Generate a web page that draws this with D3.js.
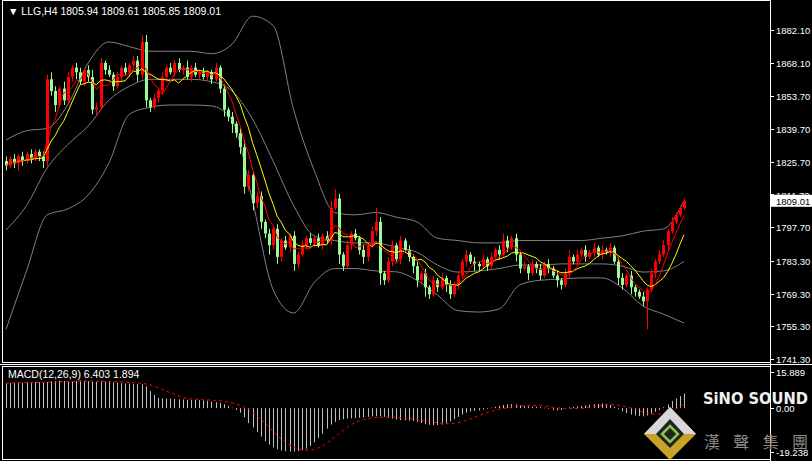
<!DOCTYPE html>
<html>
<head>
<meta charset="utf-8">
<script src="https://cdn.jsdelivr.net/npm/d3@7/dist/d3.min.js"></script>
<style>
body { margin: 0; background: #000; }
svg { display: block; }
</style>
</head>
<body>
<svg width="812" height="462"></svg>
<script>
// closing prices of the H4 candles, oldest first
var closes = [
  1824,1827,1825,1828,1826,1829,1827,1830,1828,1826,
  1861,1856,1850,1857,1852,1862,1866,1864,1860,1865,
  1862,1848,1849,1868,1865,1863,1858,1862,1866,1864,
  1867,1869,1863,1877,1852,1849,1853,1856,1862,1866,
  1864,1868,1865,1866,1862,1866,1863,1864,1862,1864,
  1861,1866,1857,1848,1845,1842,1838,1832,1815,1820,
  1808,1811,1800,1795,1790,1797,1785,1792,1789,1794,
  1782,1786,1790,1793,1791,1793,1790,1794,1792,1806,
  1810,1786,1781,1790,1795,1793,1788,1785,1790,1796,
  1800,1778,1775,1783,1790,1784,1792,1788,1785,1781,
  1775,1778,1772,1769,1775,1772,1776,1773,1769,1773,
  1777,1783,1786,1783,1782,1781,1784,1781,1785,1788,
  1786,1792,1789,1793,1786,1780,1781,1778,1782,1780,
  1777,1782,1780,1777,1775,1773,1778,1785,1783,1786,
  1788,1785,1787,1789,1786,1788,1787,1789,1783,1776,
  1773,1777,1772,1770,1768,1766,1771,1778,1783,1786,
  1790,1796,1800,1803,1806,1809.01
];
var firstOpen = 1826;
// wick lengths above / below the body
var upWick = [
  2,1,2,1,2,1,2,1,1,2, 2,3,2,1,3,2,1,2,2,1,
  2,3,2,2,1,2,1,2,1,2, 1,2,2,3,3,1,2,1,2,1,
  2,1,2,1,3,1,2,1,2,1, 1,2,1,2,1,2,1,2,3,2,
  1,2,2,1,2,1,2,1,2,1, 2,1,2,1,2,1,2,1,2,3,
  4,2,1,2,1,2,1,2,1,2, 6,2,1,2,2,1,2,1,2,1,
  2,1,2,1,2,1,2,1,2,1, 2,1,2,1,2,1,2,1,2,1,
  2,3,2,1,2,1,2,1,2,1, 2,1,2,1,2,1,2,3,1,2,
  1,2,1,2,1,2,1,2,1,2, 2,1,2,1,1,2,1,2,1,2,
  2,1,2,1,1,1
];
var downWick = [
  2,1,2,3,2,1,2,1,2,3, 2,2,3,1,2,1,2,3,1,2,
  2,2,3,1,2,1,2,1,2,1, 2,1,3,2,3,2,1,2,1,2,
  1,2,1,2,1,2,1,2,1,2, 2,1,2,3,2,4,2,3,3,2,
  3,2,3,2,4,2,3,2,1,2, 3,2,1,2,1,2,1,2,1,2,
  1,4,2,1,2,1,2,3,2,1, 2,5,2,1,2,1,2,1,2,3,
  3,2,4,2,1,2,1,3,2,1, 2,1,2,1,3,2,1,2,1,2,
  2,1,2,1,3,2,1,3,1,2, 2,1,2,1,3,2,1,2,1,2,
  1,2,1,2,1,2,1,2,1,3, 2,1,3,2,1,2,12,1,2,1,
  1,2,1,1,1,1
];
// Bollinger band readings every 5th candle
var bandIdx = d3.range(0, 166, 5);
var bandUpper = [1835,1839,1840,1850,1868,1877,1875,1873,1873,1873,1872,1876,1888,1884,1848,1822,1804,1803,1804,1802,1800,1793,1792,1791,1791,1792,1792,1792,1792,1793,1794,1796,1797,1809];
var bandMid = [1796.5,1807,1823,1833,1841,1852,1858,1861,1861,1861,1860,1856,1844,1826,1807,1794,1792,1791,1791,1789,1787,1781.5,1778.5,1779,1780,1781.5,1781.5,1782,1782,1782,1781,1778.5,1779,1783];
var bandLower = [1754,1779,1803,1805.5,1811.5,1825,1846,1849,1850,1850,1849.6,1843.6,1809,1771,1761,1774,1780,1780,1779,1778.6,1775,1768.7,1762,1761.4,1762.7,1773,1775,1775.5,1776,1776,1771.7,1764,1760.5,1756.7];
// MACD histogram per candle
var macd = [
  11.0,11.1,11.2,11.3,11.2,11.3,11.4,11.5,11.4,11.3,
  11.5,11.8,11.9,12.0,11.9,11.8,11.9,12.0,12.1,12.0,
  11.9,11.7,11.6,11.8,11.7,11.5,11.4,11.2,11.0,10.8,
  10.7,10.6,10.6,10.5,9.6,7.5,5.8,4.5,4.3,4.2,
  4.2,4.0,3.9,3.8,3.7,3.6,3.6,3.5,3.4,3.3,
  3.0,2.6,2.3,1.8,1.0,0.2,-0.8,-2,-4,-6.5,
  -8.5,-10.5,-12.5,-14.5,-16,-17.2,-18,-18.6,-18.9,-19.1,
  -19,-18.8,-18.4,-17.8,-16.6,-15,-13.2,-11.2,-9,-7.2,
  -6,-5.2,-4.8,-4.6,-4.5,-4.3,-4.2,-4,-3.8,-3.6,
  -3.5,-3.6,-3.8,-4.2,-4.6,-5,-5.2,-5.3,-5.4,-5.6,
  -6,-6.5,-7,-7.3,-7.5,-7.4,-7.2,-6.8,-5.8,-4.8,
  -3.8,-2.8,-2,-1.5,-1.2,-1,-0.6,-0.3,0.2,0.6,
  1.0,1.4,1.7,1.8,1.6,1.2,0.9,0.8,0.7,0.6,
  0.5,0.2,-0.3,-0.8,-1,-0.8,-0.2,0.3,0.6,0.8,
  1.0,1.2,1.5,1.7,1.9,2,1.8,1.4,0.6,-0.4,
  -1.4,-2.2,-2.8,-3.2,-3.5,-3.6,-3.2,-2.4,-1.6,-0.8,
  0.4,1.6,3.1,4.2,5.3,6.403
];
var priceTicks = [1882.10,1868.10,1853.70,1839.70,1825.70,1811.70,1797.70,1783.30,1769.30,1755.30,1741.30];
var macdTicks = [15.889, 0, -19.238];

var svg = d3.select("svg");
var n = closes.length;
var mainTop = 2, mainBottom = 362, macdTop = 366, macdBottom = 459, axisX = 770;
var font = "Liberation Sans, Arial";

var candles = closes.map(function (c, i) {
    var o = i === 0 ? firstOpen : closes[i - 1];
    return { i: i, o: o, c: c, h: Math.max(o, c) + upWick[i], l: Math.min(o, c) - downWick[i] };
});

var x = d3.scaleLinear().domain([0, n - 1]).range([6, 684]);
var y = d3.scaleLinear().domain([1741.30, 1882.10]).range([359, 30]);
var ym = d3.scaleLinear().domain([-19.238, 15.889]).range([452, 372]);

svg.append("rect").attr("width", 812).attr("height", 462).attr("fill", "#000");

// panel frames
svg.append("rect").attr("x", 2.5).attr("y", 0.5).attr("width", axisX - 2).attr("height", mainBottom)
    .attr("fill", "none").attr("stroke", "#fff");
svg.append("rect").attr("x", 2.5).attr("y", macdTop + 0.5).attr("width", axisX - 2).attr("height", macdBottom - macdTop)
    .attr("fill", "none").attr("stroke", "#fff");
svg.append("line").attr("x1", 0).attr("x2", 812).attr("y1", 364.5).attr("y2", 364.5).attr("stroke", "#fff");
svg.append("line").attr("x1", 0).attr("x2", 812).attr("y1", 461.5).attr("y2", 461.5).attr("stroke", "#fff");

var main = svg.append("g");

// bands
var bandLine = d3.line().x(function (d) { return x(d[0]); }).y(function (d) { return y(d[1]); }).curve(d3.curveMonotoneX);
[bandUpper, bandMid, bandLower].forEach(function (arr) {
    main.append("path")
        .attr("d", bandLine(arr.map(function (v, k) { return [bandIdx[k], v]; })))
        .attr("fill", "none").attr("stroke", "#808080").attr("stroke-width", 1);
});

// candles: red rising, light green falling
var col = function (d) { return d.c >= d.o ? "#ff0000" : "#98fb98"; };
main.selectAll("line.wick").data(candles).enter().append("line")
    .attr("x1", function (d) { return Math.round(x(d.i)) + 0.5; })
    .attr("x2", function (d) { return Math.round(x(d.i)) + 0.5; })
    .attr("y1", function (d) { return y(d.h); })
    .attr("y2", function (d) { return y(d.l); })
    .attr("stroke", col);
main.selectAll("rect.body").data(candles).enter().append("rect")
    .attr("x", function (d) { return Math.round(x(d.i)) - 1; })
    .attr("width", 3)
    .attr("y", function (d) { return y(Math.max(d.o, d.c)); })
    .attr("height", function (d) { return Math.max(1, Math.abs(y(d.o) - y(d.c))); })
    .attr("fill", col);

// moving averages
function sma(arr, p) {
    return arr.map(function (v, i) { return d3.mean(arr.slice(Math.max(0, i - p + 1), i + 1)); });
}
var maLine = d3.line().x(function (d, i) { return x(i); }).y(function (d) { return y(d); });
main.append("path").attr("d", maLine(sma(closes, 9))).attr("fill", "none").attr("stroke", "#ffff00");
main.append("path").attr("d", maLine(sma(closes, 5))).attr("fill", "none").attr("stroke", "#ff0000");

// price axis
var ax = svg.append("g").attr("font-family", font).attr("font-size", 9.5).attr("fill", "#fff");
priceTicks.forEach(function (t) {
    ax.append("line").attr("x1", axisX).attr("x2", axisX + 4).attr("y1", Math.round(y(t)) + 0.5).attr("y2", Math.round(y(t)) + 0.5).attr("stroke", "#fff");
    ax.append("text").attr("x", 776).attr("y", y(t) + 4).text(t.toFixed(2));
});
var last = closes[n - 1];
ax.append("rect").attr("x", axisX + 1).attr("y", y(last) - 6).attr("width", 41).attr("height", 12).attr("fill", "#fff");
ax.append("text").attr("x", 776).attr("y", y(last) + 4).attr("fill", "#000").text(last.toFixed(2));

// header
svg.append("text").attr("x", 8).attr("y", 15).attr("font-family", font).attr("font-size", 10.5)
    .attr("fill", "#fff").text("\u25BC LLG,H4  1805.94 1809.61 1805.85 1809.01");

// MACD
var mg = svg.append("g");
mg.selectAll("line.h").data(macd).enter().append("line")
    .attr("x1", function (d, i) { return Math.round(x(i)) + 0.5; })
    .attr("x2", function (d, i) { return Math.round(x(i)) + 0.5; })
    .attr("y1", ym(0)).attr("y2", function (d) { return ym(d); })
    .attr("stroke", "#c0c0c0");
var signal = sma(macd, 9);
mg.append("path")
    .attr("d", d3.line().x(function (d, i) { return x(i); }).y(function (d) { return ym(d); })(signal))
    .attr("fill", "none").attr("stroke", "#ff0000").attr("stroke-dasharray", "3,3");
mg.append("text").attr("x", 8).attr("y", 378).attr("font-family", font).attr("font-size", 10.5)
    .attr("fill", "#fff").text("MACD(12,26,9) 6.403 1.894");
macdTicks.forEach(function (t) {
    mg.append("line").attr("x1", axisX).attr("x2", axisX + 4).attr("y1", Math.round(ym(t)) + 0.5).attr("y2", Math.round(ym(t)) + 0.5).attr("stroke", "#fff");
    mg.append("text").attr("x", 776).attr("y", ym(t) + 4).attr("font-family", font).attr("font-size", 9.5)
        .attr("fill", "#fff").text(t === 0 ? "0.00" : String(t));
});
svg.append("line").attr("x1", axisX + 0.5).attr("x2", axisX + 0.5).attr("y1", 0).attr("y2", 462).attr("stroke", "#fff");

// logo watermark
var logo = svg.append("g").attr("transform", "translate(670,434)");
logo.append("path").attr("d", "M0,-27 L26,0 L0,26 L-26,0 Z").attr("fill", "#c9a227");
logo.append("path").attr("d", "M0,-27 L26,0 L0,0 L-26,0 Z").attr("fill", "#d8d8d8");
logo.append("path").attr("d", "M0,-15 L14,0 L0,14 L-14,0 Z").attr("fill", "#222");
logo.append("path").attr("d", "M0,-8 L8,0 L0,8 L-8,0 Z").attr("fill", "none").attr("stroke", "#8bc34a").attr("stroke-width", 2.5);
svg.append("text").attr("x", 703).attr("y", 404).attr("font-family", "DejaVu Sans, sans-serif").attr("font-weight", "bold")
    .attr("font-size", 16).attr("textLength", 105).attr("lengthAdjust", "spacingAndGlyphs")
    .attr("fill", "#f0f0f0").text("SiNO SOUND");
svg.append("text").attr("x", 704).attr("y", 448).attr("font-family", "Noto Sans CJK TC").attr("font-size", 16)
    .attr("textLength", 104).attr("fill", "#8a8a8a").text("漢聲集團");
</script>
</body>
</html>
